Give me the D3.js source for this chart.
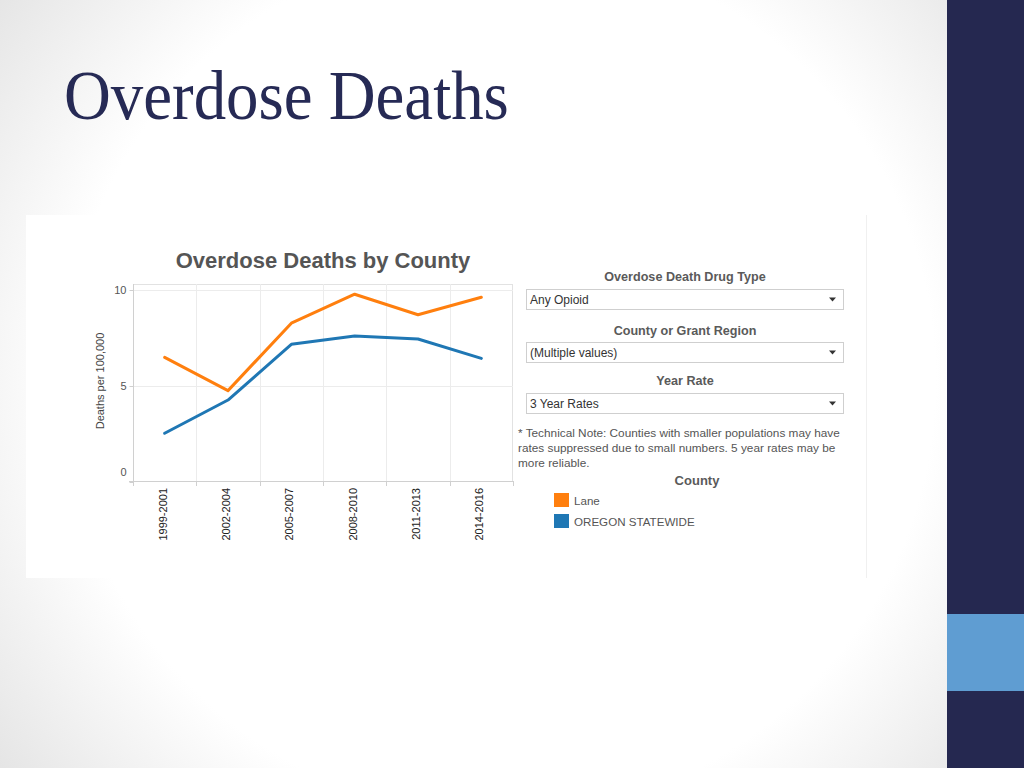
<!DOCTYPE html>
<html>
<head>
<meta charset="utf-8">
<script src="https://cdn.jsdelivr.net/npm/d3@7/dist/d3.min.js"></script>
<style>
  html, body { margin: 0; padding: 0; background: #fff; }
  svg { display: block; }
  text { font-family: "Liberation Sans", Arial, sans-serif; }
</style>
</head>
<body>
<svg id="chart" width="1024" height="768"></svg>
<script>
// ---- data ----
const categories = ["1999-2001", "2002-2004", "2005-2007", "2008-2010", "2011-2013", "2014-2016"];
const laneValues = [6.49, 4.76, 8.27, 9.78, 8.71, 9.62];
const oregonValues = [2.54, 4.27, 7.17, 7.60, 7.45, 6.44];
const seriesNames = ["Lane", "OREGON STATEWIDE"];
const yTicks = [0, 5, 10];
const filterTitles = ["Overdose Death Drug Type", "County or Grant Region", "Year Rate"];
const filterValues = ["Any Opioid", "(Multiple values)", "3 Year Rates"];
const noteLines = [
  "* Technical Note: Counties with smaller populations may have",
  "rates suppressed due to small numbers. 5 year rates may be",
  "more reliable."
];

const colors = ["#ff7f0e", "#1f77b4"];
const series = [laneValues, oregonValues];

const svg = d3.select("#chart");

// ---- slide background ----
const defs = svg.append("defs");
const rg = defs.append("radialGradient").attr("id", "bg")
  .attr("gradientUnits", "userSpaceOnUse")
  .attr("cx", 500).attr("cy", 380).attr("r", 640);
rg.append("stop").attr("offset", "0%").attr("stop-color", "#ffffff");
rg.append("stop").attr("offset", "68%").attr("stop-color", "#ffffff");
rg.append("stop").attr("offset", "100%").attr("stop-color", "#e4e4e4");
svg.append("rect").attr("x", 0).attr("y", 0).attr("width", 947).attr("height", 768).attr("fill", "url(#bg)");

// sidebar
svg.append("rect").attr("x", 947).attr("y", 0).attr("width", 77).attr("height", 768).attr("fill", "#252850");
svg.append("rect").attr("x", 947).attr("y", 614).attr("width", 77).attr("height", 77).attr("fill", "#5f9dd2");

// slide title
svg.append("text").attr("transform", "translate(64,119) scale(0.94,1)")
  .style("font-family", "'Liberation Serif', 'DejaVu Serif', serif")
  .attr("font-size", 69).attr("fill", "#262a55")
  .text("Overdose Deaths");

// chart panel
svg.append("rect").attr("x", 26).attr("y", 215).attr("width", 840).attr("height", 363)
  .attr("fill", "#ffffff");
svg.append("line").attr("x1", 866.5).attr("x2", 866.5).attr("y1", 215).attr("y2", 578)
  .attr("stroke", "#f0f0f0");

// chart title
svg.append("text").attr("x", 323).attr("y", 268).attr("text-anchor", "middle")
  .attr("font-size", 22).attr("font-weight", "bold").attr("fill", "#555555")
  .text("Overdose Deaths by County");

// ---- scales ----
const x = d3.scaleBand().domain(categories).range([133, 513]).padding(0);
const y = d3.scaleLinear().domain([0, 10]).range([482, 290]);

const plot = svg.append("g");

// frame
plot.append("rect").attr("x", 133.5).attr("y", 284.5).attr("width", 379).attr("height", 197)
  .attr("fill", "none").attr("stroke", "#e2e2e2").attr("stroke-width", 1);

// horizontal gridlines
plot.selectAll("line.hg").data(yTicks.filter(d => d > 0)).join("line").attr("class", "hg")
  .attr("x1", 133).attr("x2", 513)
  .attr("y1", d => Math.round(y(d)) + 0.5).attr("y2", d => Math.round(y(d)) + 0.5)
  .attr("stroke", "#ececec").attr("stroke-width", 1);

// vertical gridlines at band boundaries
plot.selectAll("line.vg").data(categories.slice(1)).join("line").attr("class", "vg")
  .attr("x1", d => Math.round(x(d)) + 0.5).attr("x2", d => Math.round(x(d)) + 0.5)
  .attr("y1", 284).attr("y2", 481)
  .attr("stroke", "#ececec").attr("stroke-width", 1);

// left axis
const yAxis = d3.axisLeft(y).tickValues(yTicks).tickSize(4).tickFormat(d3.format("d"));
const gy = plot.append("g").attr("transform", "translate(133.5,0)").call(yAxis);
gy.select(".domain").remove();
gy.selectAll(".tick line").attr("stroke", "#cfcfcf");
gy.selectAll(".tick text").attr("font-size", 11).attr("fill", "#555").attr("x", -7)
  .style("font-family", "'Liberation Sans', Arial, sans-serif")
  .attr("dy", d => d === 0 ? "-0.6em" : "0.32em");
plot.append("line").attr("x1", 133.5).attr("x2", 133.5).attr("y1", 284).attr("y2", 481)
  .attr("stroke", "#d0d0d0");

// bottom axis
plot.append("line").attr("x1", 129).attr("x2", 513).attr("y1", 481.5).attr("y2", 481.5)
  .attr("stroke", "#d0d0d0");
const boundaries = categories.map(c => x(c)).concat([x.range()[1]]);
plot.selectAll("line.xt").data(boundaries).join("line").attr("class", "xt")
  .attr("x1", d => Math.round(d) + 0.5).attr("x2", d => Math.round(d) + 0.5)
  .attr("y1", 481).attr("y2", 486).attr("stroke", "#d0d0d0");

plot.selectAll("text.xl").data(categories).join("text").attr("class", "xl")
  .attr("transform", d => `translate(${x(d) + x.bandwidth() / 2 - 2},488) rotate(-90)`)
  .attr("text-anchor", "end").attr("dy", "0.35em")
  .attr("font-size", 11).attr("fill", "#222")
  .text(d => d);

// y axis title
svg.append("text").attr("transform", "translate(104,381) rotate(-90)")
  .attr("text-anchor", "middle").attr("font-size", 11).attr("fill", "#444")
  .text("Deaths per 100,000");

// lines
const line = d3.line().x((d, i) => x(categories[i]) + x.bandwidth() / 2).y(d => y(d));
plot.selectAll("path.series").data(series).join("path").attr("class", "series")
  .attr("d", d => line(d)).attr("fill", "none")
  .attr("stroke", (d, i) => colors[i]).attr("stroke-width", 3)
  .attr("stroke-linejoin", "round").attr("stroke-linecap", "round");

// ---- filter panel ----
const panel = svg.append("g");
const titleY = [281, 335, 385];
const boxY = [289.5, 342.5, 393.5];
filterTitles.forEach((t, i) => {
  panel.append("text").attr("x", 685).attr("y", titleY[i]).attr("text-anchor", "middle")
    .attr("font-size", 12.6).attr("font-weight", "bold").attr("fill", "#5a5a5a").text(t);
  panel.append("rect").attr("x", 526.5).attr("y", boxY[i]).attr("width", 317).attr("height", 20)
    .attr("fill", "#fff").attr("stroke", "#cfcfcf");
  panel.append("text").attr("x", 530).attr("y", boxY[i] + 14).attr("font-size", 12)
    .attr("fill", "#333").text(filterValues[i]);
  const ay = boxY[i] + 8;
  panel.append("path").attr("d", `M829,${ay} L836,${ay} L832.5,${ay + 4} Z`).attr("fill", "#333");
});

noteLines.forEach((t, i) => {
  panel.append("text").attr("x", 518).attr("y", 436.5 + i * 15.2).attr("font-size", 11.8)
    .attr("fill", "#555").text(t);
});

// legend
panel.append("text").attr("x", 697).attr("y", 485).attr("text-anchor", "middle")
  .attr("font-size", 13).attr("font-weight", "bold").attr("fill", "#5a5a5a").text("County");
const leg = panel.selectAll("g.leg").data(seriesNames).join("g").attr("class", "leg")
  .attr("transform", (d, i) => `translate(554,${493 + i * 21})`);
leg.append("rect").attr("width", 15).attr("height", 14).attr("fill", (d, i) => colors[i]);
leg.append("text").attr("x", 20).attr("y", 12).attr("font-size", 11.6).attr("fill", "#555").text(d => d);
</script>
</body>
</html>
